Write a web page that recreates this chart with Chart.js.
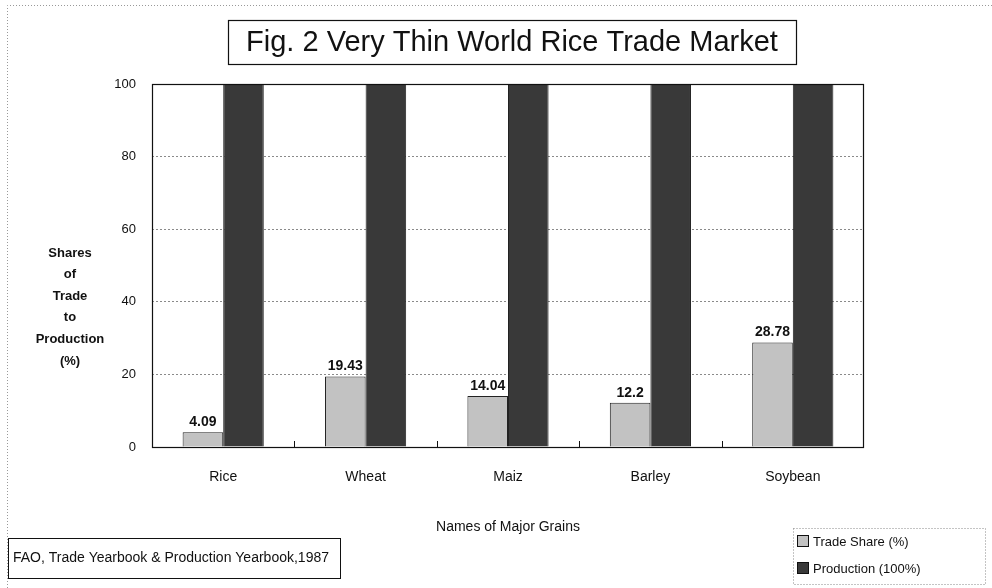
<!DOCTYPE html>
<html>
<head>
<meta charset="utf-8">
<script src="https://cdn.jsdelivr.net/npm/chart.js"></script>
<style>
  html, body { margin: 0; padding: 0; background: #fff; }
  #wrap { width: 992px; height: 588px; position: relative; }
</style>
</head>
<body>
<div id="wrap"><canvas id="grainChart"></canvas></div>
<script>
// chart values
const grains = ["Rice", "Wheat", "Maiz", "Barley", "Soybean"];
const tradeShare = [4.09, 19.43, 14.04, 12.2, 28.78];
const production = [100, 100, 100, 100, 100];
const yTicks = [0, 20, 40, 60, 80, 100];

const chartTitle = "Fig. 2 Very Thin World Rice Trade Market";
const yTitleLines = ["Shares", "of", "Trade", "to", "Production", "(%)"];
const xTitle = "Names of Major Grains";
const sourceNote = "FAO, Trade Yearbook & Production Yearbook,1987";

const FONT = "'Liberation Sans', Arial, sans-serif";
const lightFill = "#c2c2c2";
const darkFill = "#393939";

// everything the library does not draw by itself
const decorations = {
    id: "decorations",
    beforeDatasetsDraw(chart) {
        const c = chart.ctx;
        c.save();
        // dotted outer frame (left + top)
        c.strokeStyle = "#999";
        c.setLineDash([1, 2]);
        c.lineWidth = 1;
        c.beginPath();
        c.moveTo(7.5, 588); c.lineTo(7.5, 5.5); c.lineTo(992, 5.5);
        c.stroke();
        c.restore();
    },
    afterDatasetsDraw(chart) {
        const c = chart.ctx, a = chart.chartArea;
        c.save();

        // plot frame
        c.strokeStyle = "#111";
        c.lineWidth = 1.2;
        c.strokeRect(a.left + 0.5, a.top + 0.5, a.right - a.left - 1, a.bottom - a.top);

        // little marks between categories
        c.lineWidth = 1;
        const step = (a.right - a.left) / grains.length;
        for (let i = 1; i < grains.length; i++) {
            const x = Math.round(a.left + step * i) + 0.5;
            c.beginPath(); c.moveTo(x, a.bottom - 6); c.lineTo(x, a.bottom); c.stroke();
        }

        // value labels above trade share bars
        const meta = chart.getDatasetMeta(0);
        c.fillStyle = "#111";
        c.font = "bold 14px " + FONT;
        c.textAlign = "center";
        c.textBaseline = "bottom";
        meta.data.forEach((bar, i) => {
            c.fillText(String(tradeShare[i]), bar.x, bar.y - 3);
        });

        // title box
        c.font = "29px " + FONT;
        c.textBaseline = "middle";
        c.fillText(chartTitle, 512, 43);
        c.lineWidth = 1.2;
        c.strokeRect(228.5, 20.5, 568, 44);

        // y axis title
        c.font = "bold 13px " + FONT;
        yTitleLines.forEach((t, i) => c.fillText(t, 70, 253 + i * 21.6));

        // x axis title
        c.font = "14px " + FONT;
        c.fillText(xTitle, 508, 527);

        // source box
        c.textAlign = "left";
        c.fillText(sourceNote, 13, 558);
        c.lineWidth = 1;
        c.strokeRect(8.5, 538.5, 332, 40);

        // legend
        c.font = "13px " + FONT;
        c.strokeStyle = "#888";
        c.setLineDash([1, 2]);
        c.strokeRect(793.5, 528.5, 192, 56);
        c.setLineDash([]);
        c.strokeStyle = "#111";
        const legend = [["Trade Share (%)", lightFill], ["Production (100%)", darkFill]];
        legend.forEach(([label, col], i) => {
            const y = 535 + i * 27;
            c.fillStyle = col;
            c.fillRect(797, y, 12, 12);
            c.strokeRect(797.5, y + 0.5, 11, 11);
            c.fillStyle = "#111";
            c.fillText(label, 813, y + 7);
        });
        c.restore();
    }
};

new Chart(document.getElementById("grainChart"), {
    type: "bar",
    data: {
        labels: grains,
        datasets: [
            {
                label: "Trade Share (%)",
                data: tradeShare,
                backgroundColor: lightFill,
                borderColor: "#222",
                borderWidth: 1,
                categoryPercentage: 0.57,
                barPercentage: 1.0
            },
            {
                label: "Production (100%)",
                data: production,
                backgroundColor: darkFill,
                borderColor: "#222",
                borderWidth: 1,
                categoryPercentage: 0.57,
                barPercentage: 1.0
            }
        ]
    },
    options: {
        responsive: true,
        maintainAspectRatio: false,
        animation: false,
        layout: { padding: { top: 84, right: 128, bottom: 0, left: 0 } },
        plugins: {
            legend: { display: false },
            title: { display: false },
            tooltip: { enabled: false }
        },
        scales: {
            x: {
                grid: { display: false, drawTicks: false },
                border: { display: false },
                ticks: { color: "#111", font: { family: FONT, size: 14 }, padding: 22 },
                afterFit(scale) { scale.height = 141; }
            },
            y: {
                min: 0,
                max: 100,
                afterBuildTicks(scale) { scale.ticks = yTicks.map(v => ({ value: v })); },
                grid: {
                    color: "#8a8a8a",
                    drawTicks: false,
                    lineWidth: 1
                },
                border: { display: false, dash: [2, 2] },
                ticks: { color: "#111", font: { family: FONT, size: 13 }, padding: 16 },
                afterFit(scale) { scale.width = 152; }
            }
        }
    },
    plugins: [decorations]
});
</script>
</body>
</html>
